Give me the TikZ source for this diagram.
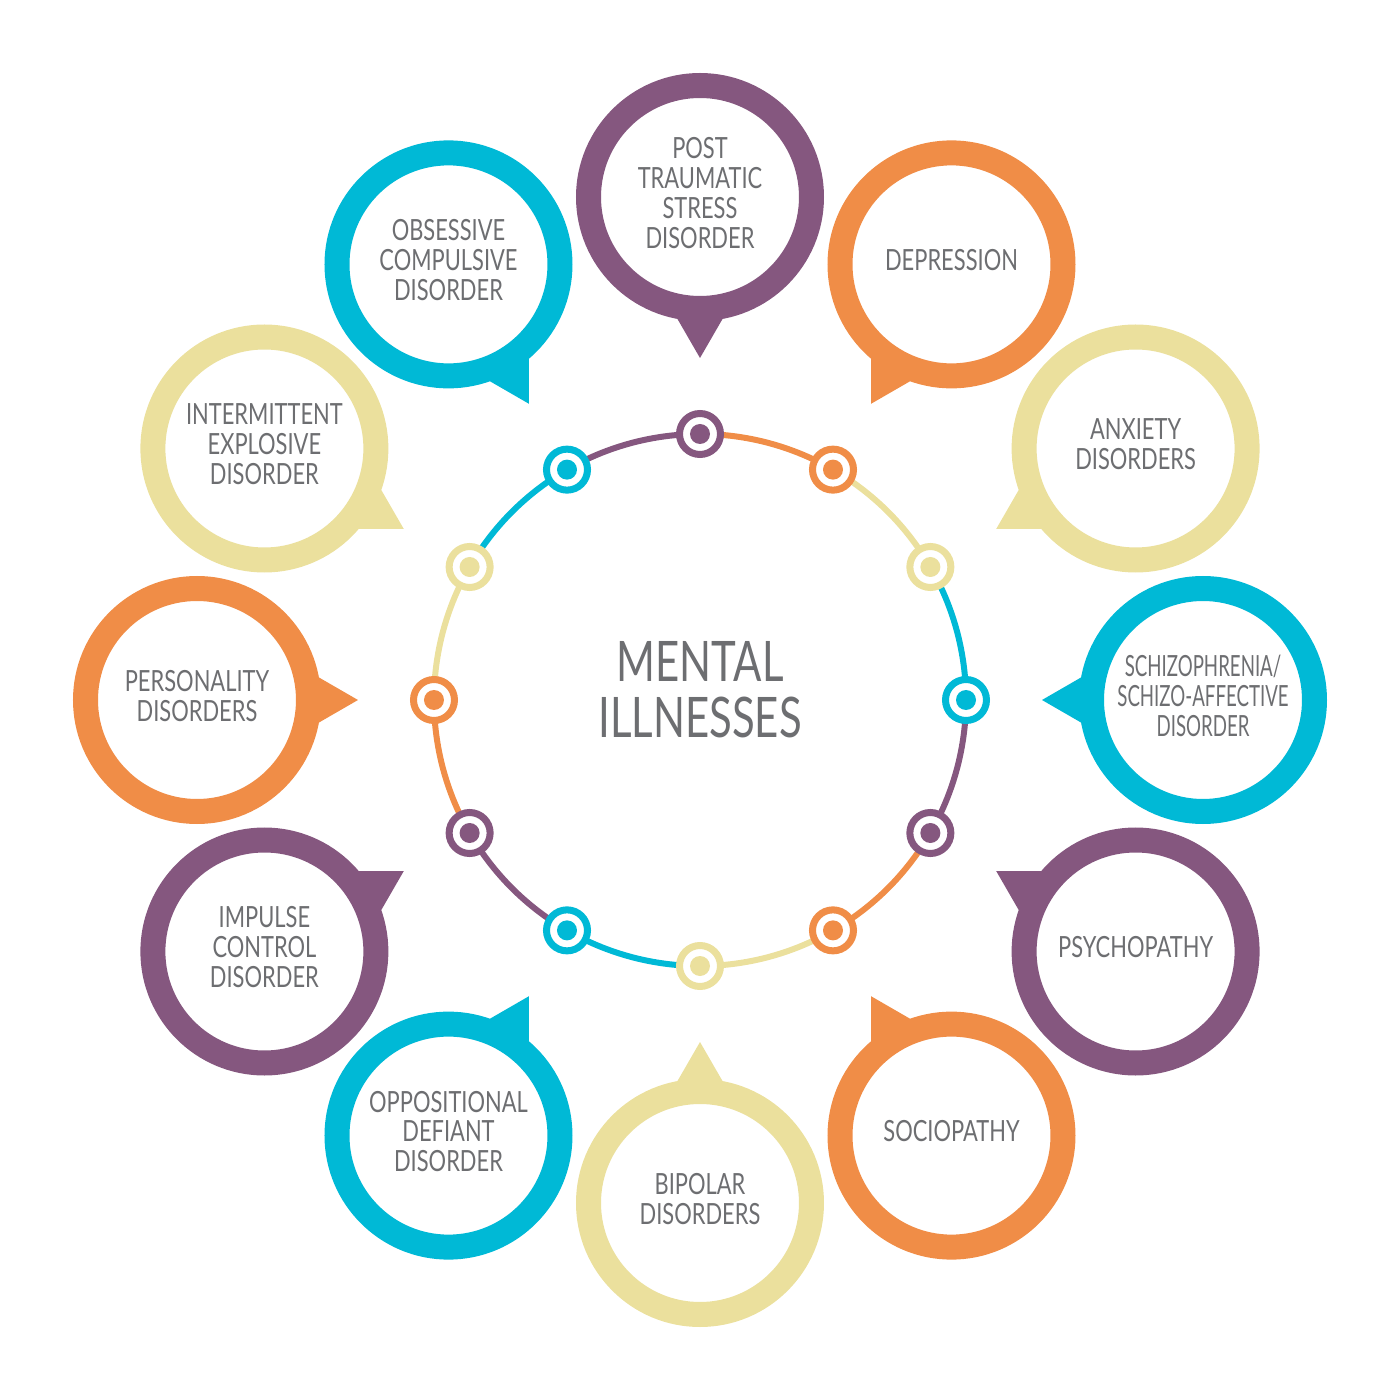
\documentclass[tikz,border=0pt]{standalone}
\usepackage{fontspec}
\setmainfont[FakeStretch=0.75]{Lato}
\newfontfamily\narrowfont[FakeStretch=0.64]{Lato}
\usepackage{xcolor}
\usepackage{tikz}
\usetikzlibrary{calc}

\definecolor{illpurple}{HTML}{85577F}
\definecolor{illorange}{HTML}{F08D47}
\definecolor{illyellow}{HTML}{EBE09D}
\definecolor{illcyan}{HTML}{00B9D6}
\definecolor{illgrey}{HTML}{6D6E71}

\tikzset{
	bubble/.style={circle, draw=#1, fill=white, line width=0.25cm, minimum size=2.23cm, inner sep=0pt, align=center, text=illgrey, font=\fontsize{8.3}{8.3}\selectfont},
	ringdot/.style={circle, draw=#1, fill=white, line width=0.07cm, minimum size=0.41cm, inner sep=0pt, path picture={\fill[#1] (path picture bounding box.center) circle (0.1);}},
}

\begin{document}
\begin{tikzpicture}
	\useasboundingbox (-7,-7) rectangle (7,7);
	
	% ring with the dots
	\foreach \a [count=\i] in {90,60,...,-240}
		\coordinate (p\i) at (\a:2.66);
	\foreach \a/\c [count=\i] in {90/illpurple, 60/illorange, 30/illyellow, 0/illcyan, -30/illpurple, -60/illorange, -90/illyellow, -120/illcyan, -150/illpurple, -180/illorange, -210/illyellow, -240/illcyan}
		\draw [\c, line width=0.06cm] (p\i) arc [start angle=\a, end angle=\a+30, radius=2.66];
	\foreach \c [count=\i] in {illpurple, illorange, illyellow, illcyan, illpurple, illorange, illyellow, illcyan, illpurple, illorange, illyellow, illcyan}
		\node [ringdot=\c] (d\i) at (p\i) {};
	
	\node [text=illgrey, align=center, font=\fontsize{15.9}{16}\selectfont] (title) at (0,0.1) {MENTAL\\ILLNESSES};
	
	% speech bubbles
	\foreach \a/\c/\t [count=\i] in {
		90/illpurple/{POST\\TRAUMATIC\\STRESS\\DISORDER},
		60/illorange/{DEPRESSION},
		30/illyellow/{ANXIETY\\DISORDERS},
		0/illcyan/{\narrowfont SCHIZOPHRENIA/\\\narrowfont SCHIZO-AFFECTIVE\\\narrowfont DISORDER},
		-30/illpurple/{PSYCHOPATHY},
		-60/illorange/{SOCIOPATHY},
		-90/illyellow/{BIPOLAR\\DISORDERS},
		-120/illcyan/{OPPOSITIONAL\\DEFIANT\\DISORDER},
		-150/illpurple/{IMPULSE\\CONTROL\\DISORDER},
		-180/illorange/{PERSONALITY\\DISORDERS},
		-210/illyellow/{INTERMITTENT\\EXPLOSIVE\\DISORDER},
		-240/illcyan/{OBSESSIVE\\COMPULSIVE\\DISORDER}} {
		\fill [\c] (\a:3.42) coordinate (tip\i) -- +({\a+30}:0.75) -- +({\a-30}:0.75) -- cycle;
		\node [bubble=\c] (b\i) at (\a:5.03) {\raisebox{0.05cm}{\begin{tabular}{@{}c@{}}\t\end{tabular}}};
	}
\end{tikzpicture}
\end{document}
